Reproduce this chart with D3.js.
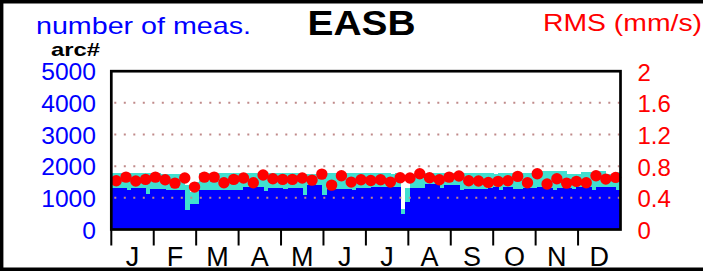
<!DOCTYPE html>
<html><head><meta charset="utf-8">
<script src="https://cdn.jsdelivr.net/npm/d3@7"></script>
<style>html,body{margin:0;padding:0;background:#fff;}svg{display:block;font-family:"Liberation Sans",Arial,sans-serif;}</style>
</head><body><svg id="c" width="703" height="271"></svg>
<script>
const months = ["J","F","M","A","M","J","J","A","S","O","N","D"];
const countTicks = [0,1000,2000,3000,4000,5000];
const rmsTicks = [0,0.4,0.8,1.2,1.6,2];
const rmsTickLabels = ["0","0.4","0.8","1.2","1.6","2"];
// half-week bins: arcs used (blue) and total arcs (turquoise top)
const arcsUsed = [1300,1300,1300,1260,1300,1300,1300,1120,1290,1290,1290,1240,1240,1240,1240,620,810,810,
  1250,1250,1250,1250,1250,1250,1250,1255,1255,1340,1340,1340,1340,1210,1310,1310,1310,1270,1310,1310,1310,
  1080,1390,1390,1390,1100,1265,1265,1265,1265,1265,1240,1310,1310,1310,1330,1330,1330,1330,1330,1330,500,860,
  1320,1320,1320,1445,1445,1445,1320,1390,1390,1390,1235,1265,1265,1265,1265,1265,1320,1340,1255,1340,1340,
  1290,1290,1310,1310,1310,1340,1310,1310,1235,1310,1310,1310,1290,1340,1340,1340,1235,1340,1340,1340,1340,1255];
const arcsTotal = [1790,1790,1790,1790,1790,1790,1790,1790,1790,1790,1740,1740,1740,1740,1740,1400,1200,1500,
  1790,1790,1790,1790,1790,1790,1790,1800,1800,1800,1800,1800,1800,1800,1800,1800,1800,1800,1780,1780,1780,
  1760,1760,1760,1760,1790,1790,1790,1790,1790,1790,1790,1790,1790,1790,1800,1800,1800,1800,1760,1780,660,1300,
  1750,1750,1750,1770,1770,1770,1770,1770,1770,1770,1770,1770,1770,1770,1770,1770,1770,1740,1800,1800,1800,
  1800,1800,1800,1800,1800,1800,1850,1850,1850,1850,1850,1760,1760,1760,1830,1830,1830,1850,1850,1760,1760,1830];
// weekly RMS (mm/s)
const rmsWeekly = [0.616,0.662,0.612,0.633,0.662,0.629,0.586,0.650,0.536,0.662,0.662,0.591,0.633,
  0.650,0.591,0.688,0.641,0.633,0.633,0.650,0.624,0.700,0.561,0.679,0.599,0.629,
  0.620,0.629,0.599,0.654,0.650,0.705,0.654,0.629,0.662,0.675,0.616,0.612,0.595,
  0.608,0.616,0.671,0.591,0.705,0.574,0.641,0.586,0.608,0.591,0.679,0.637,0.658];

const svg = d3.select("#c");
const L = 111.3, R = 620.5, T = 71.2, B = 229.5;
const xMonth = d3.scaleLinear().domain([0,12]).range([L,R]);
const xBin = d3.scaleLinear().domain([0,arcsUsed.length]).range([L,R]);
const xWeek = d3.scaleLinear().domain([0,rmsWeekly.length]).range([L,R]);
const yCount = d3.scaleLinear().domain([0,5000]).range([B,T]);
const yRms = d3.scaleLinear().domain([0,2]).range([B,T]);

// outer frame (top, left, bottom)
svg.append("path").attr("d","M703,1.8H1.6V269.4H703").attr("fill","none").attr("stroke","#000").attr("stroke-width",3.6);

// bars
const bw = xBin(1)-xBin(0);
svg.append("g").selectAll("rect").data(arcsTotal).join("rect")
  .attr("x",(d,i)=>xBin(i)).attr("width",bw+0.6)
  .attr("y",d=>yCount(d)).attr("height",(d,i)=>yCount(arcsUsed[i])-yCount(d))
  .attr("fill","#40e0d0").attr("shape-rendering","crispEdges");
svg.append("g").selectAll("rect").data(arcsUsed).join("rect")
  .attr("x",(d,i)=>xBin(i)).attr("width",bw+0.6)
  .attr("y",d=>yCount(d)).attr("height",d=>B-yCount(d))
  .attr("fill","#0000ff").attr("shape-rendering","crispEdges");

// dotted gridlines
svg.append("g").selectAll("line").data(rmsTicks.slice(1,5)).join("line")
  .attr("x1",L+3).attr("x2",R-1).attr("y1",d=>yRms(d)).attr("y2",d=>yRms(d))
  .attr("stroke","#c08a8a").attr("stroke-width",2).attr("stroke-dasharray","2,7.5");

// red dots
svg.append("g").selectAll("circle").data(rmsWeekly).join("circle")
  .attr("cx",(d,i)=>xWeek(i+0.5)).attr("cy",d=>yRms(d)).attr("r",5.7).attr("fill","#ff0000");

// plot frame
svg.append("rect").attr("x",L).attr("y",T).attr("width",R-L).attr("height",B-T)
  .attr("fill","none").attr("stroke","#000").attr("stroke-width",2.7);

// month ticks
svg.append("g").selectAll("line").data(d3.range(12)).join("line")
  .attr("x1",d=>xMonth(d)).attr("x2",d=>xMonth(d)).attr("y1",B).attr("y2",245.5)
  .attr("stroke","#000").attr("stroke-width",2);
svg.append("g").selectAll("text").data(months).join("text")
  .attr("x",(d,i)=>xMonth(i+0.5)).attr("y",266).attr("text-anchor","middle")
  .attr("font-size",27).attr("fill","#000").text(d=>d);

// left axis labels
svg.append("g").selectAll("text").data(countTicks).join("text")
  .attr("x",96).attr("y",d=>yCount(d)+9.2).attr("text-anchor","end")
  .attr("font-size",24).attr("fill","#0000ff")
  .attr("textLength",d=>String(d).length*13.7).attr("lengthAdjust","spacingAndGlyphs")
  .text(d=>String(d));
// right axis labels
svg.append("g").selectAll("text").data(rmsTicks).join("text")
  .attr("x",637.5).attr("y",d=>yRms(d)+9.6).attr("text-anchor","start")
  .attr("font-size",24).attr("fill","#ff0000").text((d,i)=>rmsTickLabels[i]);

// titles
svg.append("text").attr("x",36).attr("y",34.3).attr("font-size",24).attr("fill","#0000ff")
  .attr("textLength",215).attr("lengthAdjust","spacingAndGlyphs").text("number of meas.");
svg.append("text").attr("x",307.5).attr("y",35).attr("font-size",35).attr("font-weight","bold").attr("fill","#000")
  .attr("textLength",108).attr("lengthAdjust","spacingAndGlyphs").text("EASB");
svg.append("text").attr("x",543).attr("y",31.3).attr("font-size",24).attr("fill","#ff0000")
  .attr("textLength",159).attr("lengthAdjust","spacingAndGlyphs").text("RMS (mm/s)");
svg.append("text").attr("x",51).attr("y",56).attr("font-size",19).attr("font-weight","bold").attr("fill","#000")
  .attr("textLength",49).attr("lengthAdjust","spacingAndGlyphs").text("arc#");
</script></body></html>
